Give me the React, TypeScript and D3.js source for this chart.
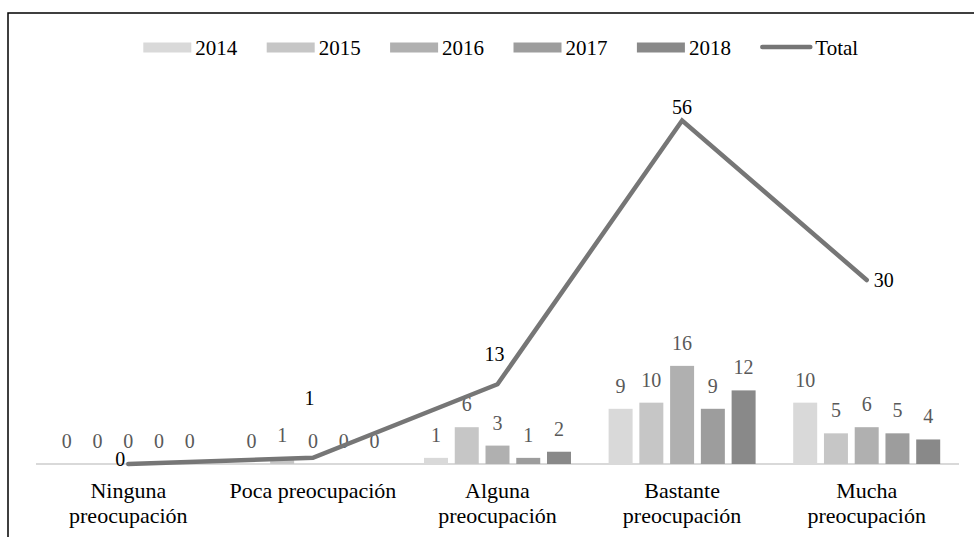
import React from 'react';
import * as d3 from 'd3';

const categories = [
  'Ninguna preocupación',
  'Poca preocupación',
  'Alguna preocupación',
  'Bastante preocupación',
  'Mucha preocupación',
];
const categoryLines = [
  ['Ninguna', 'preocupación'],
  ['Poca preocupación'],
  ['Alguna', 'preocupación'],
  ['Bastante', 'preocupación'],
  ['Mucha', 'preocupación'],
];
const years = ['2014', '2015', '2016', '2017', '2018'];
const v2014 = [0, 0, 1, 9, 10];
const v2015 = [0, 1, 6, 10, 5];
const v2016 = [0, 0, 3, 16, 6];
const v2017 = [0, 0, 1, 9, 5];
const v2018 = [0, 0, 2, 12, 4];
const total = [0, 1, 13, 56, 30];

const yearColors = ['#d9d9d9', '#c6c6c6', '#b0b0b0', '#9d9d9d', '#898989'];
const lineColor = '#767676';
// where excel put each Total label, relative to its point
const totalLabelPos = [
  { dx: -3, dy: 2, anchor: 'end' },
  { dx: -3.5, dy: -53, anchor: 'middle' },
  { dx: -3, dy: -23, anchor: 'middle' },
  { dx: 0, dy: -7, anchor: 'middle' },
  { dx: 7, dy: 7, anchor: 'start' },
];

const serif = 'Liberation Serif';

export default function App() {
  const width = 974;
  const height = 537;
  const series = [v2014, v2015, v2016, v2017, v2018];

  const x0 = d3.scaleBand<string>().domain(categories).range([36, 959]);
  const x1 = d3
    .scaleBand<string>()
    .domain(years)
    .range([18.8, 165.8])
    .paddingInner(0.22);
  const y = d3.scaleLinear().domain([0, 60]).range([464, 96]);

  const cx = (i: number) => (x0(categories[i]) as number) + x0.bandwidth() / 2;
  const line = d3
    .line<number>()
    .x((d, i) => cx(i))
    .y((d) => y(d));

  const legendStep = 123.4;
  const legendX = 143.3;
  const legendY = 47.5;

  return (
    <svg
      width={width}
      height={height}
      fontFamily={serif}
      style={{ position: 'absolute', left: 0, top: 0, display: 'block', background: '#fff', fontFamily: serif }}
    >
      {/* frame */}
      <path d={`M8,${height} V13 H${width}`} fill="none" stroke="#000" strokeWidth={1.5} />

      {/* legend */}
      <g fontFamily={serif}>
        {years.map((yr, i) => (
          <g key={yr} transform={`translate(${legendX + i * legendStep},0)`}>
            <rect x={0} y={legendY - 5} width={48} height={10} fill={yearColors[i]} />
            <text x={52} y={legendY + 7} fontSize={21} fill="#000" fontFamily={serif}>{yr}</text>
          </g>
        ))}
        <g transform={`translate(${legendX + 5 * legendStep},0)`}>
          <line x1={2} x2={50} y1={legendY - 0.5} y2={legendY - 0.5} stroke={lineColor} strokeWidth={4.5} strokeLinecap="round" />
          <text x={55} y={legendY + 7} fontSize={21} fill="#000" fontFamily={serif}>Total</text>
        </g>
      </g>

      {/* baseline */}
      <line x1={36} x2={959} y1={y(0)} y2={y(0)} stroke="#d9d9d9" strokeWidth={2} />

      {/* bars */}
      {categories.map((c, ci) => (
        <g key={c} transform={`translate(${x0(c)},0)`}>
          {series.map((s, si) => {
            const bx = x1(years[si]) as number;
            const v = s[ci];
            return (
              <g key={years[si]}>
                {v > 0 && (
                  <rect
                    x={bx}
                    y={y(v)}
                    width={x1.bandwidth()}
                    height={y(0) - y(v)}
                    fill={yearColors[si]}
                  />
                )}
                <text
                  x={bx + x1.bandwidth() / 2}
                  y={y(v) - 16}
                  textAnchor="middle"
                  fontSize={20}
                  fill="#595959"
                  fontFamily={serif}
                >
                  {v}
                </text>
              </g>
            );
          })}
        </g>
      ))}

      {/* total line */}
      <path
        d={line(total) as string}
        fill="none"
        stroke={lineColor}
        strokeWidth={4.5}
        strokeLinejoin="miter"
        strokeLinecap="round"
      />
      {total.map((v, i) => (
        <text
          key={i}
          x={cx(i) + totalLabelPos[i].dx}
          y={y(v) + totalLabelPos[i].dy}
          textAnchor={totalLabelPos[i].anchor as any}
          fontSize={20}
          fill="#000"
          fontFamily={serif}
        >
          {v}
        </text>
      ))}

      {/* category labels */}
      {categories.map((c, i) => (
        <text key={c} x={cx(i)} y={498} textAnchor="middle" fontSize={22} fill="#000" fontFamily={serif}>
          {categoryLines[i].map((ln, li) => (
            <tspan key={li} x={cx(i)} dy={li === 0 ? 0 : 25}>
              {ln}
            </tspan>
          ))}
        </text>
      ))}
    </svg>
  );
}
